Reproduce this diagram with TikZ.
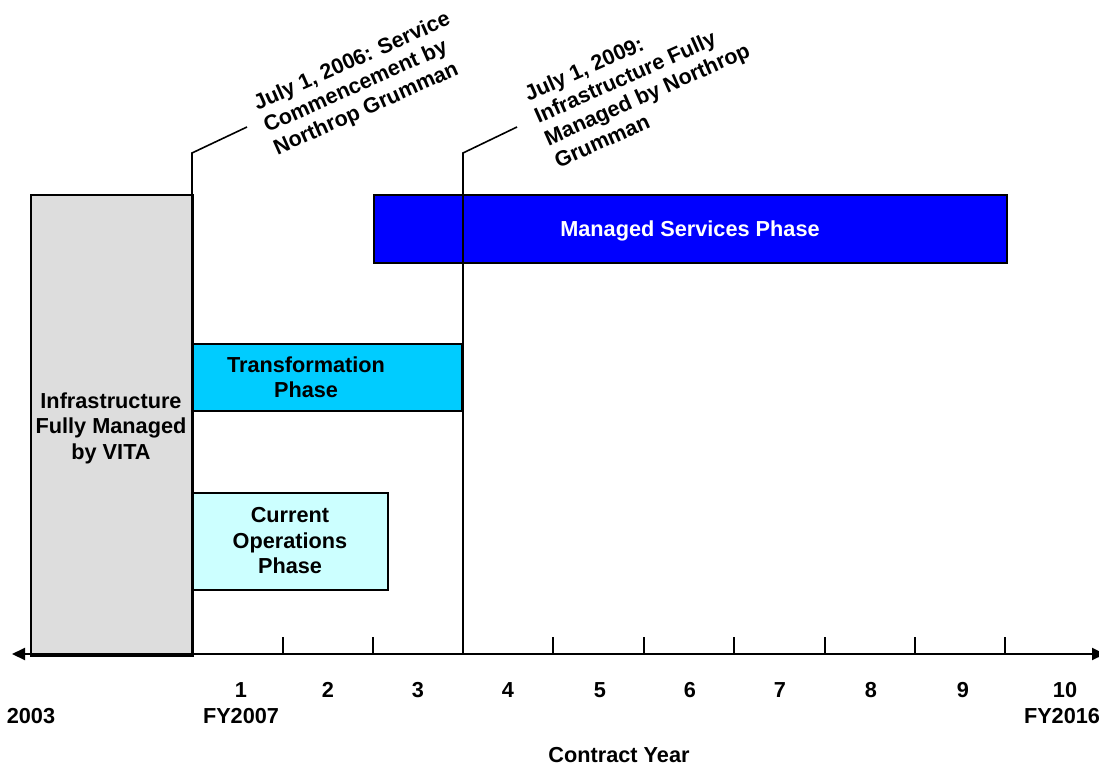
\documentclass[tikz,border=0pt]{standalone}
\usepackage{fontspec}
\setmainfont{Liberation Sans}
\usetikzlibrary{arrows.meta}
\definecolor{vitagrey}{HTML}{DDDDDD}
\definecolor{mblue}{HTML}{0000FF}
\definecolor{tcyan}{HTML}{00CCFF}
\definecolor{ccyan}{HTML}{CCFFFF}
\begin{document}
\begin{tikzpicture}[x=1pt,y=-1pt,
  every node/.style={font=\bfseries\fontsize{21.7}{25.5}\selectfont, inner sep=0pt},
  phasebox/.style={draw=black, line width=1.6pt, anchor=north west},
  lead/.style={draw=black, line width=1.6pt},
  axisline/.style={draw=black, line width=2pt, {Triangle[length=13pt,width=12pt]}-{Triangle[length=13pt,width=12pt]}},
  tick/.style={draw=black, line width=2pt},
  ticklabel/.style={anchor=center},
  rotlabel/.style={rotate=24, anchor=north west, align=left, font=\bfseries\fontsize{21.5}{24.5}\selectfont}
]
\useasboundingbox (0,0) rectangle (1099,767);
\clip (0,0) rectangle (1099,767);

% phase boxes
\node[phasebox, fill=vitagrey, minimum width=162, minimum height=461] (vita) at (30,194) {};
\node[align=center] (vitatxt) at (111,428) {Infrastructure\\Fully Managed\\by VITA};

\node[phasebox, fill=mblue, minimum width=633, minimum height=68] (msp) at (373,194) {};
\node[text=white] (msptxt) at (690,231) {Managed Services Phase};

\node[phasebox, fill=tcyan, minimum width=269, minimum height=67] (trans) at (192,343) {};
\node[align=center] (transtxt) at (306,377) {Transformation\\Phase};

\node[phasebox, fill=ccyan, minimum width=195, minimum height=97] (curr) at (192,492) {};
\node[align=center] (currtxt) at (290,541) {Current\\Operations\\Phase};

% axis
\coordinate (axL) at (12,654);
\coordinate (axR) at (1105,654);
\draw[axisline] (axL) -- (axR);
\foreach \tx in {192,283,373,463,553,644,734,825,915,1005} {
  \draw[tick] (\tx,637) -- (\tx,654);
}

% leader lines
\coordinate (s1) at (192,654);
\coordinate (k1) at (192,153);
\coordinate (e1) at (247,127);
\draw[lead] (s1) -- (k1) -- (e1);
\coordinate (s2) at (463,654);
\coordinate (k2) at (463,153);
\coordinate (e2) at (517,127);
\draw[lead] (s2) -- (k2) -- (e2);

\node[rotlabel] (lbl1) at (251,96) {July 1, 2006: Service\\Commencement by\\Northrop Grumman};
\node[rotlabel] (lbl2) at (522,87) {July 1, 2009:\\Infrastructure Fully\\Managed by Northrop\\Grumman};

% axis labels
\node[ticklabel] (y1) at (241,690) {1};
\node[ticklabel] (y2) at (328,690) {2};
\node[ticklabel] (y3) at (418,690) {3};
\node[ticklabel] (y4) at (508,690) {4};
\node[ticklabel] (y5) at (600,690) {5};
\node[ticklabel] (y6) at (690,690) {6};
\node[ticklabel] (y7) at (780,690) {7};
\node[ticklabel] (y8) at (871,690) {8};
\node[ticklabel] (y9) at (963,690) {9};
\node[ticklabel] (y10) at (1065,690) {10};
\node[ticklabel] (fy07) at (241,716) {FY2007};
\node[ticklabel] (fy16) at (1062,716) {FY2016};
\node[ticklabel] (y2003) at (31,716) {2003};
\node[ticklabel] (cy) at (619,755) {Contract Year};
\end{tikzpicture}
\end{document}
